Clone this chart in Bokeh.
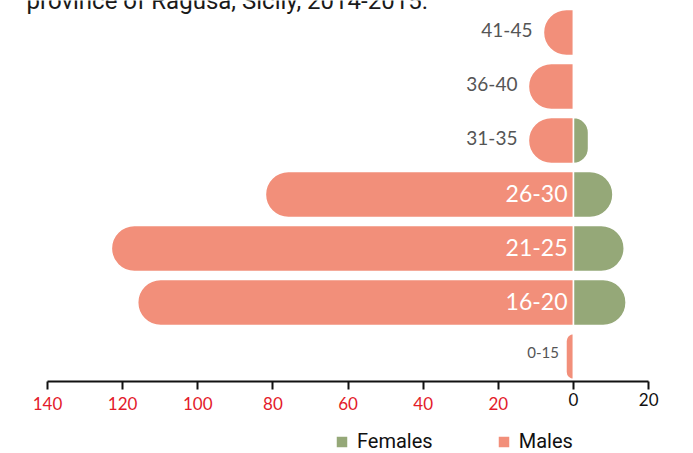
from bokeh.plotting import figure
from bokeh.models import (Range1d, FixedTicker, LinearAxis, Legend, LegendItem,
                          Label, ColumnDataSource)
from bokeh.core.properties import value
from bokeh.embed import file_html
from bokeh.resources import INLINE

# ---- data ----
ages = ["0-15", "16-20", "21-25", "26-30", "31-35", "36-40", "41-45"]
males = [2, 116, 123, 82, 12, 12, 8]
females = [0, 14, 13.5, 10.5, 4, 0, 0]
x_ticks = [-140, -120, -100, -80, -60, -40, -20, 0, 20]
title_text = "province of Ragusa, Sicily, 2014-2015."

# ---- layout (pixels) ----
W, H = 693, 453
PX_PER_UNIT = 3.757       # horizontal scale
ZERO_PX = 573             # x pixel of value 0
ROW_PX = 54               # row spacing
TOP_ROW_PX = 32           # y pixel of the top row centre
AXIS_PX = 381             # y pixel of the axis line

n = len(ages)
x_start = -ZERO_PX / PX_PER_UNIT
x_end = x_start + W / PX_PER_UNIT
y_end = (n - 1) + TOP_ROW_PX / ROW_PX
y_start = y_end - H / ROW_PX
axis_y = y_end - AXIS_PX / ROW_PX

MALE_C = "#f28f7a"
FEMALE_C = "#95a878"
RED = "#e31b2b"
LABEL_FONT = "Lato"

ypos = list(range(n))
src = ColumnDataSource(dict(
    y=ypos, age=ages,
    mleft=[-m for m in males], zero=[0] * n,
    fright=females,
))

p = figure(width=W, height=H, output_backend="svg", toolbar_location=None,
           x_range=Range1d(x_start, x_end), y_range=Range1d(y_start, y_end),
           x_axis_type=None, y_axis_type=None,
           min_border_left=0, min_border_right=0, min_border_top=0,
           min_border_bottom=0, outline_line_color=None)
p.grid.visible = False
p.background_fill_color = "white"

mr = p.hbar(y="y", left="mleft", right="zero", height=0.852, source=src,
            fill_color=MALE_C, line_color="white", line_width=1.5,
            border_radius=(23, 0, 0, 23))
fr = p.hbar(y="y", left="zero", right="fright", height=0.852, source=src,
            fill_color=FEMALE_C, line_color="white", line_width=1.5,
            border_radius=(0, 23, 23, 0))

# labels: inside (big bars), outside (small bars), tiny
inside = [i for i, m in enumerate(males) if m > 40]
outside = [i for i, m in enumerate(males) if 5 <= m <= 40]
tiny = [i for i, m in enumerate(males) if m < 5]

def sub(idx):
    return ColumnDataSource(dict(
        y=[ypos[i] for i in idx], age=[ages[i] for i in idx],
        x=[-males[i] for i in idx], z=[0 for i in idx]))

p.text(x="z", y="y", text="age", source=sub(inside), text_align="right",
       text_baseline="middle", x_offset=-6, y_offset=-1, text_color="white",
       text_font=value(LABEL_FONT), text_font_size="23px")
p.text(x="x", y="y", text="age", source=sub(outside), text_align="right",
       text_baseline="middle", x_offset=-11, y_offset=-3, text_color="#555555",
       text_font=value(LABEL_FONT), text_font_size="19px")
p.text(x="x", y="y", text="age", source=sub(tiny), text_align="right",
       text_baseline="middle", x_offset=-7, y_offset=-4, text_color="#555555",
       text_font=value(LABEL_FONT), text_font_size="15px")

# main axis: line, ticks, red labels
black_ticks = [t for t in x_ticks if t >= 0]
ax = LinearAxis(ticker=FixedTicker(ticks=x_ticks), fixed_location=axis_y,
                bounds=(min(x_ticks), max(x_ticks)))
ax.major_label_overrides = {t: (str(abs(t)) if t < 0 else " ") for t in x_ticks}
ax.axis_line_width = 2
ax.axis_line_color = "#111111"
ax.major_tick_line_width = 2
ax.major_tick_line_color = "#111111"
ax.major_tick_in = 0
ax.major_tick_out = 8
ax.minor_tick_line_color = None
ax.major_label_standoff = 3
ax.major_label_text_color = RED
ax.major_label_text_font = LABEL_FONT
ax.major_label_text_font_size = "17px"
p.add_layout(ax, "below")

ax2 = LinearAxis(ticker=FixedTicker(ticks=black_ticks), fixed_location=axis_y)
ax2.axis_line_color = None
ax2.major_tick_line_color = None
ax2.minor_tick_line_color = None
ax2.major_tick_in = 0
ax2.major_tick_out = 8
ax2.major_label_standoff = 3
ax2.major_label_text_color = "#111111"
ax2.major_label_text_font = LABEL_FONT
ax2.major_label_text_font_size = "17px"
p.add_layout(ax2, "below")

legend = Legend(items=[LegendItem(label="Females", renderers=[fr]),
                       LegendItem(label="Males", renderers=[mr])],
                orientation="horizontal", location=(334, 0),
                glyph_width=15, glyph_height=15, label_standoff=8, spacing=63,
                padding=0, margin=0, border_line_color=None,
                background_fill_alpha=0, label_text_font="Roboto",
                label_text_font_size="20px", label_text_color="#111111")
p.add_layout(legend, "center")

title = Label(x=26, y=H, x_units="screen", y_units="screen", text=title_text,
              text_font="Roboto", text_font_size="24px", text_color="#1a1a1a",
              text_baseline="alphabetic")
p.add_layout(title)

open("out.html", "w").write(file_html(p, INLINE))
